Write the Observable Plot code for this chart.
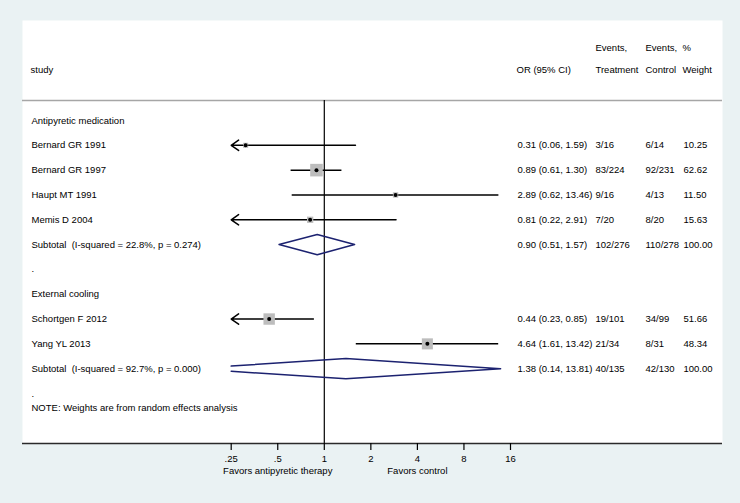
<!DOCTYPE html>
<html>
<head>
<meta charset="utf-8">
<script src="https://cdn.jsdelivr.net/npm/d3@7"></script>
<script src="https://cdn.jsdelivr.net/npm/@observablehq/plot@0.6"></script>
<style>
  body { margin: 0; background: #eaf2f3; }
  svg text { white-space: pre; }
</style>
</head>
<body>
<div id="chart"></div>
<script>
// ---- data ----
const groupNames = ["Antipyretic medication", "External cooling"];
const studies = ["Bernard GR 1991", "Bernard GR 1997", "Haupt MT 1991", "Memis D 2004", "Schortgen F 2012", "Yang YL 2013"];
const studyGroup = [0, 0, 0, 0, 1, 1];
const orValues = [0.31, 0.89, 2.89, 0.81, 0.44, 4.64];
const ciLow = [0.06, 0.61, 0.62, 0.22, 0.23, 1.61];
const ciHigh = [1.59, 1.30, 13.46, 2.91, 0.85, 13.42];
const eventsTreatment = ["3/16", "83/224", "9/16", "7/20", "19/101", "21/34"];
const eventsControl = ["6/14", "92/231", "4/13", "8/20", "34/99", "8/31"];
const weights = [10.25, 62.62, 11.50, 15.63, 51.66, 48.34];

const subtotalLabels = ["Subtotal  (I-squared = 22.8%, p = 0.274)", "Subtotal  (I-squared = 92.7%, p = 0.000)"];
const subtotalOR = [0.90, 1.38];
const subtotalLow = [0.51, 0.14];
const subtotalHigh = [1.57, 13.81];
const subtotalEventsT = ["102/276", "40/135"];
const subtotalEventsC = ["110/278", "42/130"];
const subtotalWeight = [100.00, 100.00];

const headerTop = ["", "", "Events,", "Events,", "%"];
const headerBottom = ["study", "OR (95% CI)", "Treatment", "Control", "Weight"];
const noteText = "NOTE: Weights are from random effects analysis";
const tickValues = [0.25, 0.5, 1, 2, 4, 8, 16];
const tickLabels = [".25", ".5", "1", "2", "4", "8", "16"];
const favorLabels = ["Favors antipyretic therapy", "Favors control"];
const favorAt = [0.5, 4];

// ---- layout helpers ----
const xMin = tickValues[0], xMax = tickValues[tickValues.length - 1];
const fmt = d3.format(".2f");
const colDx = [9, 495, 573, 623, 661];
const headerDx = [8, 494, 573, 623, 660];
const rows = [];
let r = 0;
groupNames.forEach((g, gi) => {
  rows.push({type: "group", label: g, row: r++});
  studies.forEach((s, i) => {
    if (studyGroup[i] !== gi) return;
    rows.push({type: "study", label: s, or: orValues[i], lo: ciLow[i], hi: ciHigh[i],
      evT: eventsTreatment[i], evC: eventsControl[i], w: weights[i], row: r++});
  });
  rows.push({type: "subtotal", label: subtotalLabels[gi], or: subtotalOR[gi], lo: subtotalLow[gi], hi: subtotalHigh[gi],
    evT: subtotalEventsT[gi], evC: subtotalEventsC[gi], w: subtotalWeight[gi], row: r++, id: gi});
  rows.push({type: "blank", label: ".", row: r++});
});
const noteRow = r - 1 + 0.6;
const headTopRow = -2.94, headBottomRow = -2.05;
const sepRow = -0.806, bottomRow = 13.013;
const studyRows = rows.filter(d => d.type === "study");
const subRows = rows.filter(d => d.type === "subtotal");
const numRows = rows.filter(d => d.type === "study" || d.type === "subtotal");
numRows.forEach(d => { d.orText = `${fmt(d.or)} (${fmt(d.lo)}, ${fmt(d.hi)})`; d.wText = fmt(d.w); });

// diamonds (clipped at axis minimum)
const h = 0.41;
const diamondPts = [];
subRows.forEach(d => {
  const L = Math.log(d.lo), E = Math.log(d.or), M = Math.log(xMin);
  if (d.lo >= xMin) {
    [[d.lo, d.row], [d.or, d.row - h], [d.hi, d.row], [d.or, d.row + h], [d.lo, d.row]]
      .forEach(([x, y]) => diamondPts.push({x, y, id: d.id}));
  } else {
    const t = (M - L) / (E - L);
    [[xMin, d.row - h * t], [d.or, d.row - h], [d.hi, d.row], [d.or, d.row + h], [xMin, d.row + h * t]]
      .forEach(([x, y]) => diamondPts.push({x, y, id: d.id}));
  }
});

const tickMap = new Map(tickValues.map((v, i) => [v, tickLabels[i]]));
const font = "Liberation Sans, Arial, sans-serif";
const fs = 9.5;

const textCol = (data, field, dx, y = "row") => Plot.text(data, {y, text: field, frameAnchor: "left", dx, textAnchor: "start", fontSize: fs, fill: "black"});

const headerMarks = [];
headerBottom.forEach((b, i) => {
  headerMarks.push(textCol([b], d => d, headerDx[i], () => headBottomRow));
  if (headerTop[i]) headerMarks.push(textCol([headerTop[i]], d => d, headerDx[i], () => headTopRow));
});

const chart = Plot.plot({
  width: 740,
  height: 503,
  marginLeft: 22, marginRight: 18, marginTop: 20, marginBottom: 60,
  style: {background: "#eaf2f3", fontFamily: font, fontSize: fs + "px", color: "black"},
  x: {type: "log", base: 2, domain: [xMin, xMax], range: [230.7, 510], axis: null},
  y: {domain: [0, 11], range: [120, 393], axis: null},
  r: {type: "sqrt", domain: [0, 62.62], range: [0, 7.1]},
  marks: [
    Plot.frame({fill: "white", stroke: "none"}),
    Plot.ruleY([sepRow], {stroke: "#a6a6a6", strokeWidth: 1.5}),
    Plot.ruleX([1], {y1: sepRow, y2: bottomRow, stroke: "black", strokeWidth: 1.2}),
    Plot.ruleY([bottomRow], {stroke: "#2a2a2a", strokeWidth: 1.5}),
    Plot.axisX(tickValues, {anchor: "bottom", tickSize: 7, tickPadding: 5, tickFormat: v => tickMap.get(v), fontSize: fs, stroke: "black", strokeWidth: 1.2, label: null}),
    Plot.text(favorLabels, {x: (d, i) => favorAt[i], text: d => d, frameAnchor: "bottom", dy: 30, fontSize: fs, fill: "black"}),
    // CI lines
    Plot.ruleY(studyRows.filter(d => d.lo >= xMin), {y: "row", x1: "lo", x2: "hi", stroke: "black", strokeWidth: 1.5}),
    Plot.arrow(studyRows.filter(d => d.lo < xMin), {x1: "hi", y1: "row", x2: () => xMin, y2: "row", stroke: "black", strokeWidth: 1.5, headLength: 9, headAngle: 70}),
    Plot.dot(studyRows, {x: "or", y: "row", r: "w", symbol: "square", fill: "#bdbdbd", stroke: "none"}),
    Plot.dot(studyRows, {x: "or", y: "row", r: 2, fill: "black", stroke: "none"}),
    Plot.line(diamondPts, {x: "x", y: "y", z: "id", stroke: "#1c2270", strokeWidth: 1.5, curve: "linear"}),
    // text columns
    textCol(rows, "label", colDx[0]),
    textCol(numRows, "orText", colDx[1]),
    textCol(numRows, "evT", colDx[2]),
    textCol(numRows, "evC", colDx[3]),
    textCol(numRows, "wText", colDx[4]),
    textCol([noteText], d => d, colDx[0], () => noteRow),
    ...headerMarks
  ]
});
document.getElementById("chart").appendChild(chart);
</script>
</body>
</html>
